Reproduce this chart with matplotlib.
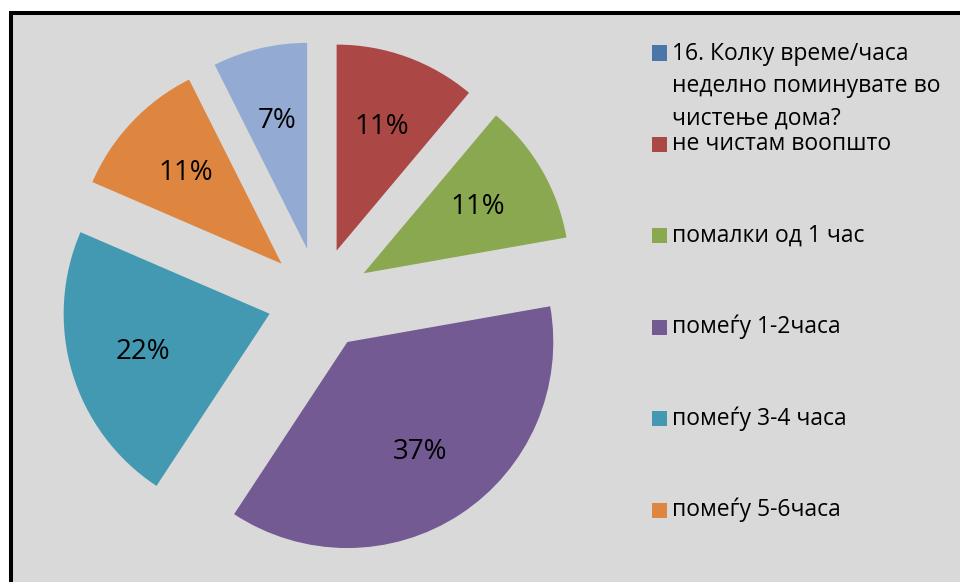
import matplotlib.pyplot as plt
from matplotlib.patches import Rectangle

plt.rcParams['font.family'] = ['Open Sans', 'DejaVu Sans']

# answers (count of respondents), first entry is the question itself
labels = ['16. Колку време/часа\nнеделно поминувате во\nчистење дома?',
          'не чистам воопшто', 'помалки од 1 час', 'помеѓу 1-2часа',
          'помеѓу 3-4 часа', 'помеѓу 5-6часа', 'повеќе од 6 часа']
counts = [0, 3, 3, 10, 6, 3, 2]
colors = ['#4a76aa', '#ab4744', '#8aa84f', '#735a93', '#4299b1', '#de853f', '#93abd2']

W, H = 960, 582
fig = plt.figure(figsize=(W / 100, H / 100), dpi=100)
fig.patch.set_facecolor('white')

# grey chart area with black frame (cut at right/bottom like the screenshot)
bg = Rectangle((11 / W, -0.1), 1.2, 1.1 - 12.5 / H, transform=fig.transFigure,
               facecolor='#d9d9d9', edgecolor='black', linewidth=2.9, zorder=-5)
fig.add_artist(bg)

ax = fig.add_axes([0, 0, 1, 1])
ax.set_axis_off()


def pct(p):
    return '' if p < 0.5 else '{:.0f}%'.format(p)


wedges, texts, autotexts = ax.pie(
    counts, colors=colors, startangle=90, counterclock=False,
    explode=[0.25] * len(counts), radius=1, autopct=pct, pctdistance=0.64,
    wedgeprops=dict(linewidth=0), textprops=dict(fontsize=20, color='black'))

# pie centre at (319, 299) px, radius 206 px
r, cx, cy = 206, 319, 299
ax.set_xlim(-cx / r, (W - cx) / r)
ax.set_ylim(-(H - cy) / r, cy / r)

# legend, drawn like the Excel one (no entry for the last slice)
ys = [53] + [144 + 91.5 * i for i in range(5)]
for lab, col, y in zip(labels[:6], colors[:6], ys):
    fig.add_artist(Rectangle((652 / W, 1 - (y + 7.5) / H), 15 / W, 15 / H,
                             transform=fig.transFigure, facecolor=col,
                             edgecolor='none'))
    if '\n' in lab:
        fig.text(672 / W, 1 - (y - 11) / H, lab, fontsize=16.5, va='top',
                 ha='left', linespacing=1.45)
    else:
        fig.text(672 / W, 1 - y / H, lab, fontsize=16.5, va='center', ha='left')

fig.savefig('out.png', dpi=100)
